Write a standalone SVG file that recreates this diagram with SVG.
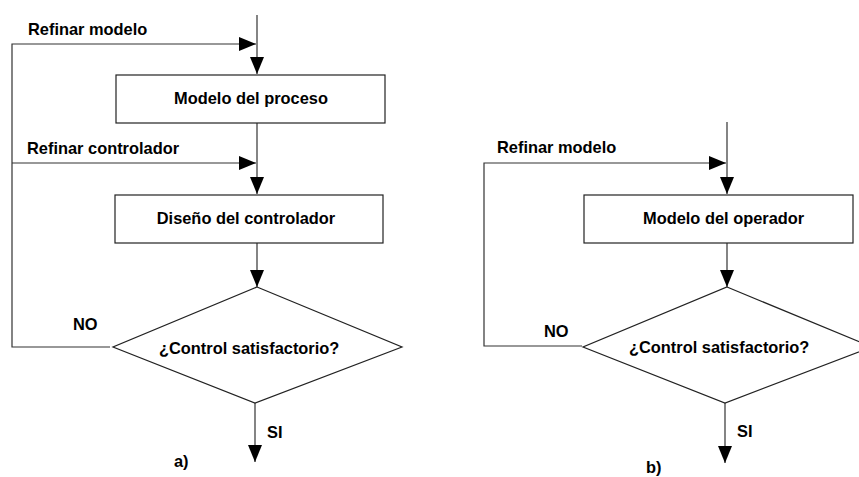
<svg xmlns="http://www.w3.org/2000/svg" width="859" height="477" viewBox="0 0 859 477">
  <defs>
    <marker id="arrow" markerUnits="userSpaceOnUse" markerWidth="18" markerHeight="16" viewBox="0 0 18 16" refX="17" refY="8" orient="auto">
      <path d="M0,1 L17,8 L0,15 Z" fill="#000"/>
    </marker>
    <style>
      .box { fill: #fff; stroke: #222; stroke-width: 1.2; }
      .wire { fill: none; stroke: #333; stroke-width: 1.2; }
      .lbl { font-family: "Liberation Sans", Arial, sans-serif; font-weight: bold; font-size: 16.4px; fill: #000; }
      .mid { text-anchor: middle; }
    </style>
  </defs>
  <rect width="859" height="477" fill="#fff"/>

  <!-- connectors -->
  <g id="connectors">
    <!-- a) process / controller loop -->
    <path class="wire" d="M257,15 V74" marker-end="url(#arrow)"/>
    <path class="wire" d="M110,347 H12 V44 H256" marker-end="url(#arrow)"/>
    <path class="wire" d="M257,123 V194" marker-end="url(#arrow)"/>
    <path class="wire" d="M12,163 H256" marker-end="url(#arrow)"/>
    <path class="wire" d="M257,243 V287" marker-end="url(#arrow)"/>
    <path class="wire" d="M255,403 V462" marker-end="url(#arrow)"/>
    <!-- b) operator loop -->
    <path class="wire" d="M727,122 V194" marker-end="url(#arrow)"/>
    <path class="wire" d="M582,346 H484 V163 H726" marker-end="url(#arrow)"/>
    <path class="wire" d="M727,243 V287" marker-end="url(#arrow)"/>
    <path class="wire" d="M725,403 V463" marker-end="url(#arrow)"/>
  </g>

  <!-- a) nodes -->
  <g id="modelo-proceso">
    <rect class="box" x="116" y="75" width="269" height="48"/>
    <text class="lbl mid" x="251" y="104">Modelo del proceso</text>
  </g>
  <g id="diseno-controlador">
    <rect class="box" x="115" y="195" width="268" height="48"/>
    <text class="lbl mid" x="246" y="224">Diseño del controlador</text>
  </g>
  <g id="decision-a">
    <polygon class="box" points="257,287 402,347 255,403 113,347"/>
    <text class="lbl" x="159" y="354">¿Control satisfactorio?</text>
  </g>
  <g id="labels-a">
    <text class="lbl" x="28" y="35">Refinar modelo</text>
    <text class="lbl" x="27" y="154">Refinar controlador</text>
    <text class="lbl" x="73" y="330">NO</text>
    <text class="lbl" x="267" y="438">SI</text>
    <text class="lbl" x="174" y="467">a)</text>
  </g>

  <!-- b) nodes -->
  <g id="modelo-operador">
    <rect class="box" x="584" y="195" width="269" height="48"/>
    <text class="lbl" x="643" y="224">Modelo del operador</text>
  </g>
  <g id="decision-b">
    <polygon class="box" points="727,287 872,347 725,403 583,347"/>
    <text class="lbl" x="629" y="353">¿Control satisfactorio?</text>
  </g>
  <g id="labels-b">
    <text class="lbl" x="497" y="153">Refinar modelo</text>
    <text class="lbl" x="544" y="337">NO</text>
    <text class="lbl" x="737" y="437">SI</text>
    <text class="lbl" x="646" y="473">b)</text>
  </g>
</svg>
